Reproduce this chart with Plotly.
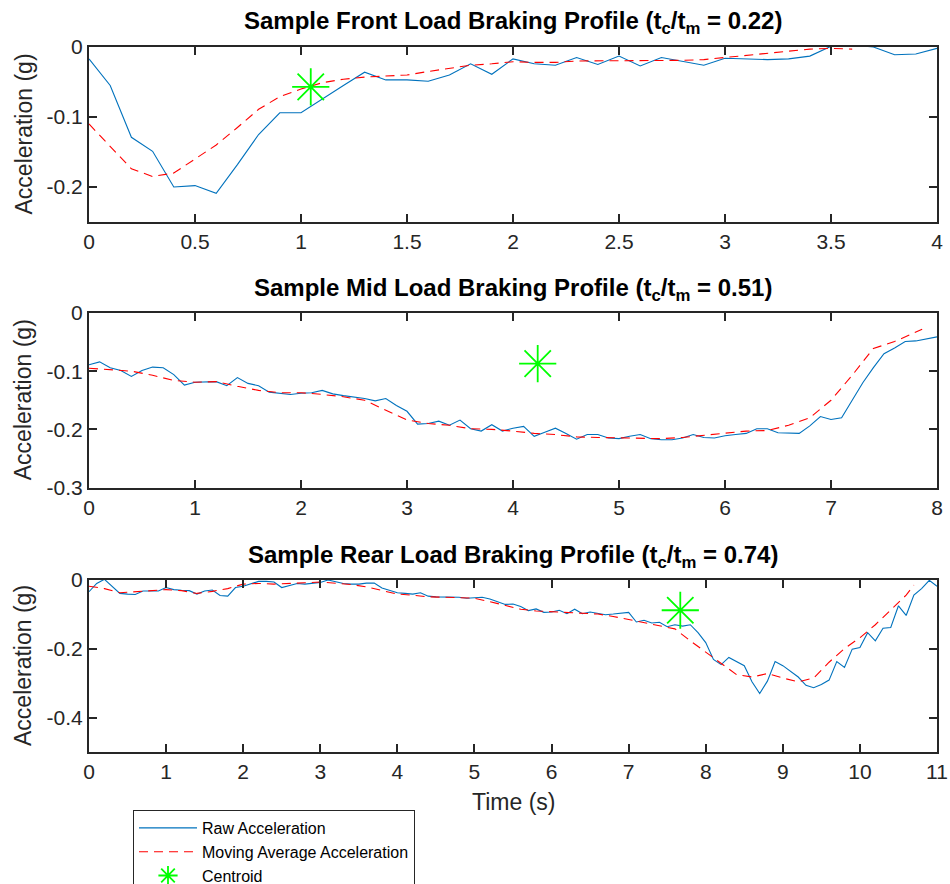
import numpy as np
import plotly.graph_objects as go
from plotly.subplots import make_subplots

# ---------------- data ----------------
front_time = np.round(np.arange(0, 4.01, 0.1), 1)
front_raw = [-0.017, -0.055, -0.129, -0.149, -0.200, -0.198, -0.209, -0.168, -0.125, -0.094,
             -0.094, -0.074, -0.055, -0.036, -0.047, -0.047, -0.049, -0.040, -0.024, -0.039,
             -0.017, -0.024, -0.026, -0.015, -0.025, -0.013, -0.027, -0.015, -0.020, -0.026,
             -0.016, -0.017, -0.018, -0.017, -0.013, 0.001, 0.003, 0.000, -0.011, -0.010,
             -0.002]
front_ma_time = np.round(np.arange(0, 3.61, 0.1), 1)
front_ma = [-0.110, -0.142, -0.174, -0.185, -0.180, -0.160, -0.140, -0.115, -0.089, -0.071,
            -0.060, -0.051, -0.046, -0.043, -0.041, -0.040, -0.035, -0.030, -0.026, -0.024,
            -0.021, -0.022, -0.022, -0.020, -0.020, -0.020, -0.020, -0.019, -0.019, -0.018,
            -0.015, -0.012, -0.008, -0.005, -0.003, -0.002, -0.003]
front_centroid = (1.046, -0.057)

mid_time = np.round(np.arange(0, 8.01, 0.1), 1)
mid_raw = [-0.089, -0.084, -0.094, -0.099, -0.109, -0.099, -0.093, -0.094, -0.106, -0.124,
           -0.119, -0.119, -0.118, -0.125, -0.111, -0.121, -0.125, -0.136, -0.138, -0.140,
           -0.138, -0.137, -0.133, -0.139, -0.142, -0.144, -0.147, -0.151, -0.147, -0.159,
           -0.169, -0.191, -0.190, -0.186, -0.193, -0.184, -0.199, -0.203, -0.192, -0.203,
           -0.198, -0.195, -0.212, -0.205, -0.198, -0.207, -0.217, -0.209, -0.209, -0.215,
           -0.216, -0.212, -0.209, -0.216, -0.218, -0.218, -0.215, -0.209, -0.214, -0.215,
           -0.211, -0.209, -0.207, -0.199, -0.199, -0.206, -0.206, -0.207, -0.194, -0.178,
           -0.183, -0.180, -0.150, -0.120, -0.094, -0.070, -0.060, -0.049, -0.048, -0.045,
           -0.041]
mid_ma_time = [0.0, 0.2, 0.4, 0.6, 0.8, 1.0, 1.2, 1.4, 1.6, 1.8, 2.0, 2.2, 2.4, 2.6, 2.8,
               3.0, 3.2, 3.4, 3.6, 3.8, 4.0, 4.2, 4.4, 4.6, 4.8, 5.0, 5.2, 5.4, 5.6, 5.8,
               6.0, 6.2, 6.4, 6.6, 6.8, 7.0, 7.2, 7.4, 7.6, 7.8, 7.86]
mid_ma = [-0.095, -0.098, -0.100, -0.107, -0.116, -0.119, -0.118, -0.126, -0.133, -0.137,
          -0.137, -0.140, -0.144, -0.150, -0.167, -0.184, -0.190, -0.193, -0.199, -0.200,
          -0.203, -0.207, -0.209, -0.213, -0.214, -0.215, -0.216, -0.216, -0.214, -0.210,
          -0.206, -0.203, -0.202, -0.193, -0.180, -0.150, -0.107, -0.061, -0.049, -0.032,
          -0.028]
mid_centroid = (4.233, -0.087)

rear_time = np.round(np.arange(0, 11.01, 0.1), 1)
rear_raw = [-0.034, -0.010, 0.002, -0.018, -0.039, -0.041, -0.042, -0.032, -0.033, -0.032,
            -0.022, -0.028, -0.030, -0.031, -0.041, -0.032, -0.029, -0.045, -0.047, -0.022,
            -0.018, -0.012, -0.004, -0.004, -0.006, -0.022, -0.015, -0.010, -0.012, -0.009,
            -0.007, 0.000, -0.006, -0.010, -0.012, -0.012, -0.009, -0.009, -0.023, -0.030,
            -0.037, -0.039, -0.041, -0.037, -0.047, -0.049, -0.049, -0.049, -0.050, -0.053,
            -0.052, -0.050, -0.055, -0.064, -0.071, -0.070, -0.077, -0.089, -0.084, -0.094,
            -0.093, -0.088, -0.098, -0.085, -0.098, -0.093, -0.096, -0.101, -0.099, -0.096,
            -0.094, -0.122, -0.117, -0.125, -0.123, -0.136, -0.130, -0.134, -0.130, -0.153,
            -0.182, -0.231, -0.246, -0.225, -0.236, -0.249, -0.296, -0.330, -0.294, -0.237,
            -0.249, -0.266, -0.282, -0.306, -0.313, -0.304, -0.291, -0.237, -0.254, -0.201,
            -0.196, -0.153, -0.177, -0.140, -0.138, -0.075, -0.103, -0.044, -0.025, -0.001,
            -0.018]
rear_ma_time = [0.0, 0.2, 0.4, 0.6, 0.8, 1.0, 1.2, 1.4, 1.6, 1.8, 2.0, 2.2, 2.4, 2.6, 2.8,
                3.0, 3.2, 3.4, 3.6, 3.8, 4.0, 4.2, 4.4, 4.6, 4.8, 5.0, 5.2, 5.4, 5.6, 5.8,
                6.0, 6.2, 6.4, 6.6, 6.8, 7.0, 7.2, 7.4, 7.6, 7.8, 8.0, 8.2, 8.4, 8.6, 8.8,
                9.0, 9.2, 9.4, 9.6, 9.8, 10.0, 10.2, 10.4, 10.6, 10.7]
rear_ma = [-0.018, -0.025, -0.037, -0.034, -0.030, -0.028, -0.031, -0.039, -0.033, -0.025,
           -0.012, -0.010, -0.012, -0.009, -0.008, -0.006, -0.010, -0.013, -0.020, -0.031,
           -0.041, -0.044, -0.049, -0.050, -0.051, -0.053, -0.063, -0.075, -0.085, -0.090,
           -0.092, -0.094, -0.096, -0.099, -0.106, -0.115, -0.125, -0.132, -0.142, -0.177,
           -0.210, -0.242, -0.275, -0.282, -0.272, -0.285, -0.296, -0.285, -0.239, -0.199,
           -0.168, -0.130, -0.087, -0.044, -0.015]
rear_centroid = (7.67, -0.088)

titles = ["Sample Front Load Braking Profile (t<sub>c</sub>/t<sub>m</sub> = 0.22)",
          "Sample Mid Load Braking Profile (t<sub>c</sub>/t<sub>m</sub> = 0.51)",
          "Sample Rear Load Braking Profile (t<sub>c</sub>/t<sub>m</sub> = 0.74)"]

x_ticks = [[0, 0.5, 1, 1.5, 2, 2.5, 3, 3.5, 4], list(range(0, 9)), list(range(0, 12))]
x_ticktext = [["0", "0.5", "1", "1.5", "2", "2.5", "3", "3.5", "4"],
              [str(v) for v in range(0, 9)], [str(v) for v in range(0, 12)]]
y_ticks = [[-0.2, -0.1, 0], [-0.3, -0.2, -0.1, 0], [-0.4, -0.2, 0]]
y_ticktext = [["-0.2", "-0.1", "0"], ["-0.3", "-0.2", "-0.1", "0"], ["-0.4", "-0.2", "0"]]
x_ranges = [[0, 4], [0, 8], [0, 11]]
y_ranges = [[-0.25, 0], [-0.3, 0], [-0.5, 0]]

BLUE = "#0072BD"
RED = "#FF0000"
GREEN = "#00FF00"
AX = "#262626"
FONT = "Liberation Sans, Arial, Helvetica, sans-serif"

# layout (pixels)
W, H = 950, 884
ML, MR, MT, MB = 89, 13, 47, 132
PH = H - MT - MB

def py(pix):
    """pixel row -> paper y"""
    return (H - MB - pix) / PH

def px(pix):
    return (pix - ML) / (W - ML - MR)

plot_tops = [47, 313, 580]
plot_bots = [222, 487.5, 752]
domains = [[py(b), py(t)] for t, b in zip(plot_tops, plot_bots)]

# ---------------- figure ----------------
fig = make_subplots(rows=3, cols=1)

sets = [
    (front_time, front_raw, front_ma_time, front_ma, front_centroid),
    (mid_time, mid_raw, mid_ma_time, mid_ma, mid_centroid),
    (rear_time, rear_raw, rear_ma_time, rear_ma, rear_centroid),
]

for i, (tr, raw, tm, ma, cen) in enumerate(sets):
    row = i + 1
    first = (i == 0)
    fig.add_trace(go.Scatter(x=tr, y=raw, mode="lines", name="Raw Acceleration",
                             line=dict(color=BLUE, width=1.1), showlegend=first,
                             legendrank=1), row=row, col=1)
    fig.add_trace(go.Scatter(x=tm, y=ma, mode="lines", name="Moving Average Acceleration",
                             line=dict(color=RED, width=1.1, dash="9px,6px"), showlegend=first,
                             legendrank=2), row=row, col=1)
    fig.add_trace(go.Scatter(x=[cen[0]], y=[cen[1]], mode="markers", name="Centroid",
                             marker=dict(symbol="asterisk", size=31, color=GREEN,
                                         line=dict(color=GREEN, width=1.8)),
                             showlegend=first, legendrank=3, cliponaxis=False), row=row, col=1)

for i in range(3):
    ax_common = dict(showline=True, linewidth=2, linecolor=AX, mirror="allticks",
                     ticks="inside", ticklen=8, tickwidth=2, tickcolor=AX,
                     showgrid=False, zeroline=False, automargin=False,
                     tickfont=dict(family=FONT, size=21, color=AX))
    fig.update_xaxes(range=x_ranges[i], tickvals=x_ticks[i], ticktext=x_ticktext[i],
                     row=i + 1, col=1, **ax_common)
    fig.update_yaxes(range=y_ranges[i], tickvals=y_ticks[i], ticktext=y_ticktext[i],
                     domain=domains[i], row=i + 1, col=1, **ax_common)
    # y axis title
    fig.add_annotation(text="Acceleration (g)", xref="paper", yref="paper",
                       x=px(23), y=(domains[i][0] + domains[i][1]) / 2,
                       xanchor="center", yanchor="middle", textangle=-90, showarrow=False,
                       font=dict(family=FONT, size=23, color=AX))
    # subplot title
    fig.add_annotation(text="<b>" + titles[i] + "</b>", xref="paper", yref="paper",
                       x=0.5, y=py(plot_tops[i] - 24), yanchor="middle", xanchor="center",
                       showarrow=False, font=dict(family=FONT, size=24, color="#000000"))

fig.add_annotation(text="Time (s)", xref="paper", yref="paper", x=0.5, y=py(802),
                   xanchor="center", yanchor="middle", showarrow=False,
                   font=dict(family=FONT, size=23, color=AX))

fig.update_layout(
    width=W, height=H,
    margin=dict(l=ML, r=MR, t=MT, b=MB, autoexpand=False),
    paper_bgcolor="white", plot_bgcolor="white",
    font=dict(family=FONT, color=AX),
    legend=dict(xref="container", yref="container",
                x=133 / W, y=1 - 810 / H, xanchor="left", yanchor="top",
                bgcolor="white", bordercolor=AX, borderwidth=1,
                font=dict(family=FONT, size=16, color="#000000"),
                tracegroupgap=0, itemwidth=58),
)

fig.write_html("out.html")
